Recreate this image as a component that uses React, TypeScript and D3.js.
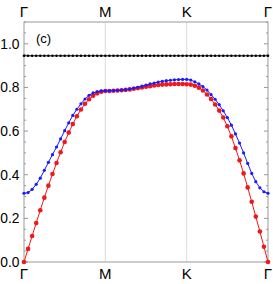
import React from "react";
import * as d3 from "d3";

// High-symmetry path labels and where they sit on the k index axis
const kLabels = ["Γ", "M", "K", "Γ"];
const kPositions = [0, 20, 40, 60];

const yTicks = [0, 0.2, 0.4, 0.6, 0.8, 1.0];

// Band energies along Γ-M-K-Γ (61 k points)
const redBand = [
  0, 0.06, 0.119, 0.179, 0.237, 0.295, 0.35, 0.403, 0.454, 0.503, 0.55,
  0.593, 0.632, 0.668, 0.699, 0.725, 0.746, 0.762, 0.773, 0.78, 0.784,
  0.784, 0.785, 0.786, 0.787, 0.789, 0.791, 0.794, 0.797, 0.8, 0.803,
  0.806, 0.809, 0.811, 0.813, 0.814, 0.815, 0.816, 0.816, 0.816, 0.815,
  0.813, 0.808, 0.799, 0.786, 0.768, 0.747, 0.722, 0.694, 0.662, 0.622,
  0.576, 0.522, 0.466, 0.406, 0.342, 0.276, 0.208, 0.14, 0.07, 0,
];

const blueBand = [
  0.315, 0.318, 0.333, 0.356, 0.384, 0.42, 0.457, 0.492, 0.527, 0.564, 0.602,
  0.638, 0.672, 0.7, 0.725, 0.747, 0.764, 0.775, 0.781, 0.784, 0.785,
  0.785, 0.786, 0.787, 0.788, 0.79, 0.793, 0.797, 0.801, 0.806, 0.811,
  0.816, 0.82, 0.825, 0.828, 0.831, 0.833, 0.835, 0.836, 0.837, 0.837,
  0.834, 0.826, 0.816, 0.804, 0.788, 0.767, 0.746, 0.721, 0.693, 0.662,
  0.627, 0.587, 0.545, 0.5, 0.452, 0.406, 0.368, 0.34, 0.322, 0.315,
];

const blackBand = [
  0.945, 0.945, 0.945, 0.945, 0.945, 0.945, 0.945, 0.945, 0.945, 0.945, 0.945,
  0.945, 0.945, 0.945, 0.945, 0.945, 0.945, 0.945, 0.945, 0.945, 0.945,
  0.945, 0.945, 0.945, 0.945, 0.945, 0.945, 0.945, 0.945, 0.945, 0.945,
  0.945, 0.945, 0.945, 0.945, 0.945, 0.945, 0.945, 0.945, 0.945, 0.945,
  0.945, 0.945, 0.945, 0.945, 0.945, 0.945, 0.945, 0.945, 0.945, 0.945,
  0.945, 0.945, 0.945, 0.945, 0.945, 0.945, 0.945, 0.945, 0.945, 0.945,
];

const W = 273;
const H = 284;
const margin = { top: 22, right: 5, bottom: 22, left: 24 };
const font = "'Liberation Sans', Arial, sans-serif";

export default function App() {
  const x = d3
    .scaleLinear()
    .domain([0, 60])
    .range([margin.left, W - margin.right]);
  const y = d3
    .scaleLinear()
    .domain([0, 1.1])
    .range([H - margin.bottom, margin.top]);

  const line = d3
    .line<number>()
    .x((_, i) => x(i))
    .y((d) => y(d));

  const minorTicks = d3.range(0, 1.1001, 0.05);

  const series = [
    { data: redBand, color: "#f01818", r: 2.3 },
    { data: blueBand, color: "#1a1aff", r: 1.6 },
    { data: blackBand, color: "#000000", r: 1.3 },
  ];

  return (
    <svg
      width={W}
      height={H}
      style={{ position: "absolute", left: 0, top: 0, background: "#fff" }}
    >
      {/* grid lines at M and K */}
      {kPositions.slice(1, 3).map((k) => (
        <line
          key={k}
          x1={x(k)}
          x2={x(k)}
          y1={y(1.1)}
          y2={y(0)}
          stroke="#dddddd"
          strokeWidth={1}
        />
      ))}

      {/* frame */}
      <rect
        x={margin.left}
        y={margin.top}
        width={W - margin.left - margin.right}
        height={H - margin.top - margin.bottom}
        fill="none"
        stroke="#999"
        strokeWidth={1}
      />

      {/* ticks on left and right sides */}
      {minorTicks.map((t, i) => {
        const len = i % 4 === 0 ? 4 : 2;
        return (
          <g key={i} stroke="#999" strokeWidth={1}>
            <line x1={margin.left} x2={margin.left + len} y1={y(t)} y2={y(t)} />
            <line
              x1={W - margin.right}
              x2={W - margin.right - len}
              y1={y(t)}
              y2={y(t)}
            />
          </g>
        );
      })}

      {/* y tick labels */}
      {yTicks.map((t) => (
        <text
          key={t}
          x={19.5}
          y={y(t)}
          dy="0.36em"
          textAnchor="end"
          fontFamily={font}
          fontSize={13.8}
          fill="#000"
        >
          {t.toFixed(1)}
        </text>
      ))}

      {/* k labels top and bottom */}
      {kLabels.map((lab, i) => (
        <g key={i} fontFamily={font} fontSize={15} textAnchor="middle">
          <text x={x(kPositions[i])} y={16.5}>
            {lab}
          </text>
          <text x={x(kPositions[i])} y={278.5}>
            {lab}
          </text>
        </g>
      ))}

      {/* bands */}
      {series.map((s, si) => (
        <g key={si}>
          <path
            d={line(s.data) || ""}
            fill="none"
            stroke={s.color}
            strokeWidth={1}
          />
          {s.data.map((v, i) => (
            <circle key={i} cx={x(i)} cy={y(v)} r={s.r} fill={s.color} />
          ))}
        </g>
      ))}

      <text x={36} y={43} fontFamily={font} fontSize={13}>
        (c)
      </text>
    </svg>
  );
}
